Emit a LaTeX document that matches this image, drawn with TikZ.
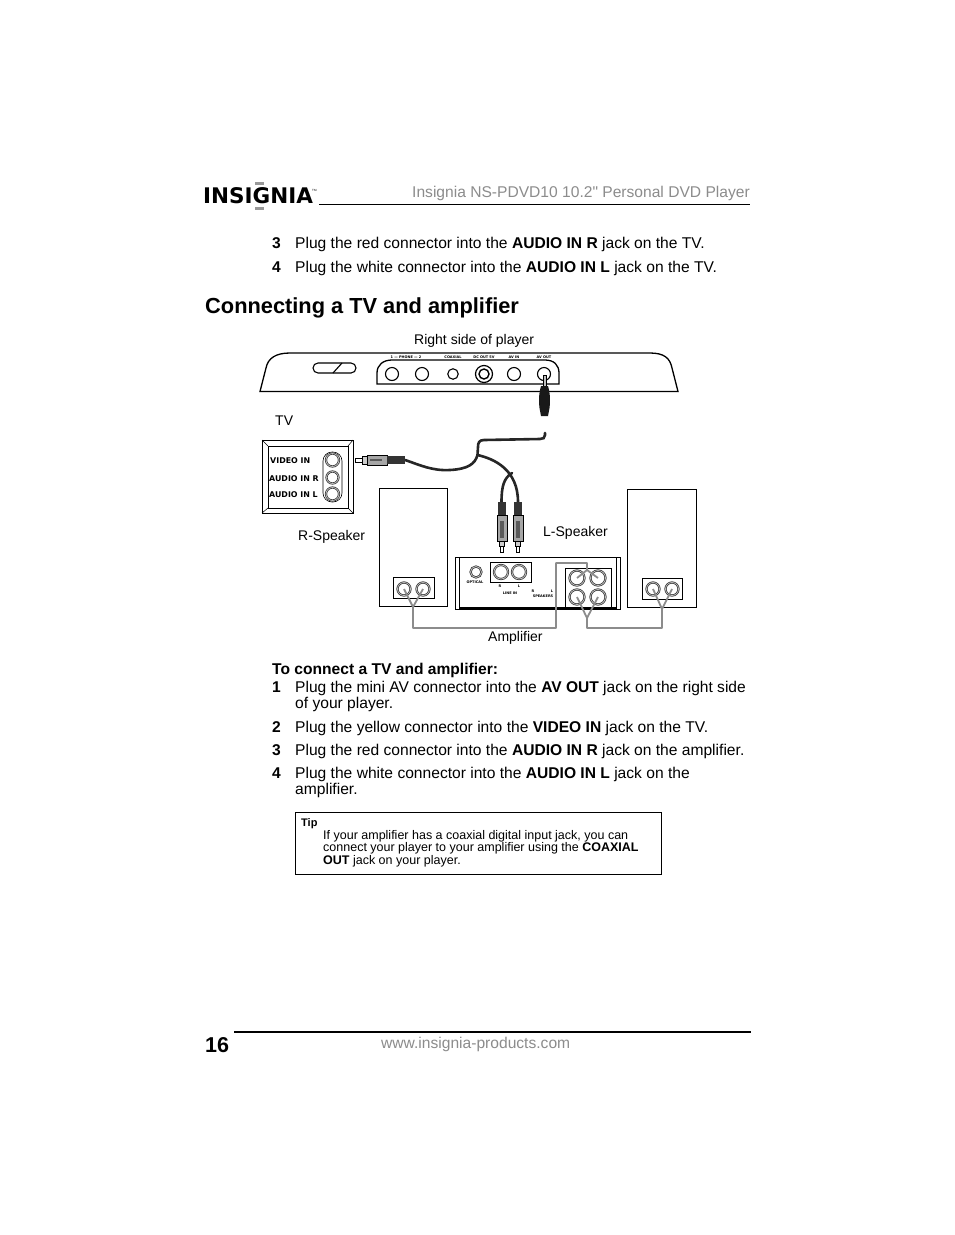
\documentclass[tikz,border=0pt]{standalone}
\usepackage{fontspec}
\setmainfont{Liberation Sans}
\newfontfamily\logofont{DejaVu Sans}
\newfontfamily\titlefont{Liberation Sans}
\usepackage{tikz}

\begin{document}
\begin{tikzpicture}[
  x=1pt,y=-1pt,
  txt/.style={anchor=base west,inner sep=0pt,font=\fontsize{15.6}{15.6}\selectfont},
  lbl/.style={txt,font=\fontsize{14}{14}\selectfont},
  tiptxt/.style={txt,font=\fontsize{12.5}{12.5}\selectfont},
  greytxt/.style={txt,text=black!45},
  tag/.style={anchor=base,inner sep=0pt,font=\logofont\bfseries\fontsize{3.5}{3.5}\selectfont},
  tvtag/.style={anchor=base west,inner sep=0pt,font=\logofont\bfseries\fontsize{7.9}{7.9}\selectfont},
  jack/.style={circle,draw,line width=1.1pt,minimum size=13pt,inner sep=0pt},
  dbljack/.style={jack,double=black!25,double distance=.8pt,line width=.7pt,draw=black!80},
  wire/.style={draw=black!45,line width=1.8pt,line join=round},
  cable/.style={draw=black!85,line width=2.6pt,line cap=round}
]
  \useasboundingbox[fill=white] (0,0) rectangle (954,1235);

  % header
  \node[inner sep=0pt,anchor=base west,font=\logofont\bfseries\fontsize{21.5}{21.5}\selectfont] (logo) at (203,203) {INSIGNIA};
  \node[inner sep=0pt,anchor=base west,font=\fontsize{3}{3}\selectfont] (tm) at (312,191) {TM};
  \fill[black!40] (255,182) rectangle (264,185);
  \fill[black!40] (255,206.5) rectangle (264,209.5);
  \node[greytxt,font=\titlefont\fontsize{15.6}{15.6}\selectfont] (title) at (412,197) {Insignia NS-PDVD10 10.2" Personal DVD Player};
  \draw[line width=1pt] (319,204) -- (750,204);

  \node[txt] (n1) at (272,248) {\textbf{3}};
  \node[txt] (s1) at (295,248) {Plug the red connector into the \textbf{AUDIO IN R} jack on the TV.};
  \node[txt] (n2) at (272,272) {\textbf{4}};
  \node[txt] (s2) at (295,272) {Plug the white connector into the \textbf{AUDIO IN L} jack on the TV.};
  \node[txt,font=\bfseries\fontsize{21.8}{21.8}\selectfont] (head) at (205,313) {Connecting a TV and amplifier};

  % player
  \node[lbl] (right) at (414,344) {Right side of player};
  \draw[line width=1.3pt] (260,391.5) -- (266,368) .. controls (268,358) and (276,353) .. (290,353)
    -- (650,353) .. controls (664,353) and (670,358) .. (672,368) -- (678,391.5) -- cycle;
  \draw[line width=1.1pt,rounded corners=5pt] (313,363) rectangle (356,373);
  \draw[line width=1.1pt] (333,373) -- (342,363);
  \draw[line width=1.3pt] (377,384) -- (377,373) .. controls (377,365) and (383,360) .. (392,360)
    -- (545,360) .. controls (554,360) and (559,365) .. (559,373) -- (559,384) -- cycle;
  \node[jack] (ph1) at (392,374) {};
  \node[jack] (ph2) at (422,374) {};
  \node[jack,minimum size=10.5pt] (coax) at (453,374) {};
  \node[jack,minimum size=17pt,line width=1.2pt] (dcout) at (484,374) {};
  \node[jack,minimum size=10pt,line width=1.4pt] (dcin) at (484,374) {};
  \node[jack] (avin) at (514,374) {};
  \node[jack] (avout) at (544,374) {};
  \node[tag] (t1) at (406,358.5) {1 — PHONE — 2};
  \node[tag] (t2) at (453,358.5) {COAXIAL};
  \node[tag] (t3) at (484,358.5) {DC OUT 5V};
  \node[tag] (t4) at (514,358.5) {AV IN};
  \node[tag] (t5) at (544,358.5) {AV OUT};

  % mini plug
  \draw[black,fill=black!25,line width=.6pt] (543,375) rectangle (546,387);
  \fill[black!90] (541,386) -- (548,386) .. controls (550,392) and (550.5,400) .. (549.5,408)
    -- (548,416) -- (541,416) -- (539.5,408) .. controls (538.5,400) and (539,392) .. (541,386) -- cycle;

  % cables
  \coordinate (top) at (545,433);
  \coordinate (split) at (477.5,455);
  \coordinate (rcav) at (405,460);
  \coordinate (rcar) at (501.5,502);
  \coordinate (rcal) at (518,502);
  \draw[cable] (top) -- (545,435) .. controls (545,438) and (543,439) .. (540,439) -- (484,440)
    .. controls (479,440) and (478,443) .. (478,447) -- (split)
    .. controls (475,464) and (468,469) .. (450,470) .. controls (432,471) and (420,465) .. (rcav);
  \draw[cable] (split) .. controls (495,459) and (518,470) .. (rcal);
  \draw[cable] (512,473) .. controls (504,478) and (501.5,486) .. (rcar);

  % tv
  \node[lbl] (tv) at (275,425) {TV};
  \draw[line width=1pt] (262,440) rectangle (353,513);
  \draw[line width=1pt] (268,446) rectangle (348,508);
  \draw[line width=.5pt] (262,440) -- (268,446) (353,440) -- (348,446) (262,513) -- (268,508) (353,513) -- (348,508);
  \draw[line width=.6pt,rounded corners=9pt] (323,452) rectangle (342,502);
  \node[dbljack,minimum size=13pt] (vin) at (332.5,460) {};
  \node[dbljack,minimum size=12pt] (ainr) at (332.5,477.5) {};
  \node[dbljack,minimum size=13pt] (ainl) at (332.5,494) {};
  \node[tvtag] (vintag) at (270,463) {VIDEO IN};
  \node[tvtag] (arintag) at (269,481) {AUDIO IN R};
  \node[tvtag] (alintag) at (269,497) {AUDIO IN L};

  % video plug
  \draw[line width=.7pt,fill=white] (355,458) rectangle (362,462);
  \draw[line width=.7pt,fill=black!20] (362,456) rectangle (367,464);
  \draw[line width=.8pt,fill=black!35] (367,455) rectangle (387,465);
  \fill[black!65] (370,459) rectangle (382,461);
  \fill[black!80] (387,456) rectangle (405,464);

  % audio plugs
  \draw[line width=.7pt,fill=white] (500,546) rectangle (503,552);
  \draw[line width=.7pt,fill=black!20] (499,541) rectangle (504,546);
  \draw[line width=.8pt,fill=black!35] (497,515) rectangle (507,541);
  \fill[black!65] (500,521) rectangle (504,538);
  \fill[black!80] (498,502) rectangle (506,515);
  \draw[line width=.7pt,fill=white] (516.5,546) rectangle (519.5,552);
  \draw[line width=.7pt,fill=black!20] (515.5,541) rectangle (520.5,546);
  \draw[line width=.8pt,fill=black!35] (513,515) rectangle (523,541);
  \fill[black!65] (516,521) rectangle (520,538);
  \fill[black!80] (514,502) rectangle (522,515);

  % speakers
  \node[lbl] (rspk) at (298,540) {R-Speaker};
  \node[lbl] (lspk) at (543,536) {L-Speaker};
  \draw[line width=.9pt] (379,488) rectangle (447,606);
  \draw[line width=1pt] (393,577) rectangle (434,598);
  \node[dbljack] (rs1) at (404,589) {};
  \node[dbljack] (rs2) at (423,589) {};
  \draw[line width=.9pt] (627,489) rectangle (696,607);
  \draw[line width=1pt] (642,578) rectangle (682,599);
  \node[dbljack] (ls1) at (653,589) {};
  \node[dbljack] (ls2) at (672,589) {};

  % amplifier
  \draw[line width=1pt] (455,557) rectangle (620,609);
  \draw[line width=1pt] (459,557) -- (459,609) (616,557) -- (616,609);
  \draw[line width=2.2pt] (459,608) -- (616,608);
  \node[dbljack,minimum size=11pt] (opt) at (476,572) {};
  \node[tag] (opttag) at (475,583) {OPTICAL};
  \draw[line width=1pt] (490,562) rectangle (531,582);
  \node[dbljack,minimum size=14pt] (liner) at (501,572) {};
  \node[dbljack,minimum size=14pt] (linel) at (519,572) {};
  \node[tag] (rtag) at (500,587) {R};
  \node[tag] (ltag) at (519,587) {L};
  \node[tag] (linetag) at (510,594) {LINE IN};
  \node[tag] (srtag) at (533,592) {R};
  \node[tag] (sltag) at (552,592) {L};
  \node[tag] (spktag) at (543,597) {SPEAKERS};
  \draw[line width=1pt] (565,568) rectangle (611,608);
  \node[dbljack,minimum size=15pt] (a1) at (577,578) {};
  \node[dbljack,minimum size=15pt] (a2) at (598,578) {};
  \node[dbljack,minimum size=15pt] (a3) at (577,597) {};
  \node[dbljack,minimum size=15pt] (a4) at (598,597) {};
  \node[lbl] (amp) at (488,641) {Amplifier};

  % speaker wires
  \coordinate (rsj) at (413,607);
  \coordinate (lsj) at (662,609);
  \coordinate (aup) at (587,570);
  \coordinate (alo) at (587,618);
  \draw[wire] (rs1.center) -- (rsj) -- (rs2.center) (rsj) -- (413,628) -- (556,628) -- (556,563) -- (587,563) -- (aup);
  \draw[wire] (a1.center) -- (aup) -- (a2.center);
  \draw[wire] (a3.center) -- (alo) -- (a4.center) (alo) -- (587,628) -- (662,628) -- (lsj);
  \draw[wire] (ls1.center) -- (lsj) -- (ls2.center);

  % steps
  \node[txt,font=\bfseries\fontsize{15.6}{15.6}\selectfont] (conn) at (272,674) {To connect a TV and amplifier:};
  \node[txt] (n3) at (272,692) {\textbf{1}};
  \node[txt,font=\fontsize{15.55}{15.55}\selectfont] (s3) at (295,692) {Plug the mini AV connector into the \textbf{AV OUT} jack on the right side};
  \node[txt] (s3b) at (295,708) {of your player.};
  \node[txt] (n4) at (272,732) {\textbf{2}};
  \node[txt] (s4) at (295,732) {Plug the yellow connector into the \textbf{VIDEO IN} jack on the TV.};
  \node[txt] (n5) at (272,755) {\textbf{3}};
  \node[txt] (s5) at (295,755) {Plug the red connector into the \textbf{AUDIO IN R} jack on the amplifier.};
  \node[txt] (n6) at (272,778) {\textbf{4}};
  \node[txt] (s6) at (295,778) {Plug the white connector into the \textbf{AUDIO IN L} jack on the};
  \node[txt] (s6b) at (295,794) {amplifier.};

  % tip
  \draw[line width=1pt] (295,812) rectangle (661,874);
  \node[tiptxt,font=\bfseries\fontsize{11}{11}\selectfont] (tip) at (301,826) {Tip};
  \node[tiptxt] (tip1) at (323,839) {If your amplifier has a coaxial digital input jack, you can};
  \node[tiptxt] (tip2) at (323,851) {connect your player to your amplifier using the \textbf{COAXIAL}};
  \node[tiptxt] (tip3) at (323,864) {\textbf{OUT} jack on your player.};

  % footer
  \node[txt,font=\bfseries\fontsize{21.5}{21.5}\selectfont] (page) at (205,1052) {16};
  \draw[line width=1.6pt] (234,1032) -- (751,1032);
  \node[greytxt] (url) at (381,1048) {www.insignia-products.com};
\end{tikzpicture}
\end{document}
